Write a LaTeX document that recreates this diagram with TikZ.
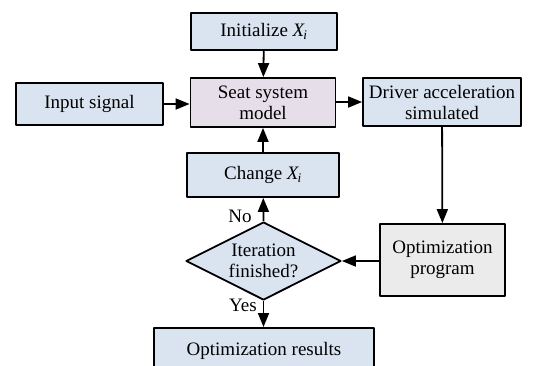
\documentclass[tikz,border=0pt]{standalone}
\usepackage{fontspec}
\setmainfont{Liberation Serif}
\usetikzlibrary{arrows.meta,shapes.geometric}
\definecolor{boxblue}{HTML}{DAE4F0}
\definecolor{boxpink}{HTML}{E6DFEA}
\definecolor{boxgray}{HTML}{EBEBEB}
\begin{document}
\begin{tikzpicture}[x=1pt,y=-1pt,line join=round,>={Triangle[length=14pt,width=11pt]},
    font=\fontsize{19}{21}\selectfont]
    \tikzset{
        blk/.style={draw,line width=1.8pt,fill=boxblue,align=center,inner sep=0pt},
        cond/.style={draw,line width=1.8pt,fill=boxblue,diamond,aspect=2,align=center,inner sep=0pt,
            minimum width=155pt,minimum height=78pt},
        flow/.style={->,line width=1.8pt}
    }
    \clip (0,0) rectangle (534,365);
    \fill[white] (0,0) rectangle (534,365);
    % boxes
    \node[blk,minimum width=146pt,minimum height=37pt] (init) at (264,31.5) {Initialize \textit{X}\textsubscript{\kern-1.5pt\textit{i}}};
    \node[blk,fill=boxpink,minimum width=145pt,minimum height=49pt] (model) at (263,102.5) {Seat system\\model};
    \node[blk,minimum width=147pt,minimum height=42pt] (input) at (89.5,104) {Input signal};
    \node[blk,minimum width=158pt,minimum height=48pt] (driver) at (442,102) {Driver acceleration\\simulated};
    \node[blk,minimum width=152pt,minimum height=44pt] (change) at (263,175) {Change \textit{X}\textsubscript{\kern-1.5pt\textit{i}}};
    \node[cond] (iter) at (263.5,261) {Iteration\\finished?};
    \node[blk,fill=boxgray,minimum width=125pt,minimum height=72pt] (optprog) at (442.5,260) {Optimization\\program};
    \node[blk,minimum width=220pt,minimum height=46pt,anchor=north] (result) at (264,327) {\raisebox{5pt}{Optimization results}};
    % connectors
    \draw[flow] (init) -- (model);
    \draw[flow] (input) -- (input-|model.west);
    \draw[flow] (model.east|-driver) -- (driver);
    \draw[flow] (change) -- (model);
    \draw[flow] (driver) -- (optprog);
    \draw[flow] (optprog.west|-iter) -- (iter.east);
    \draw[flow] (iter.north) -- (change);
    \draw[flow] (iter.south) -- (result.north-|iter.south);
    \node (no) at (240,216) {No};
    \node (yes) at (243,305) {Yes};
\end{tikzpicture}
\end{document}
